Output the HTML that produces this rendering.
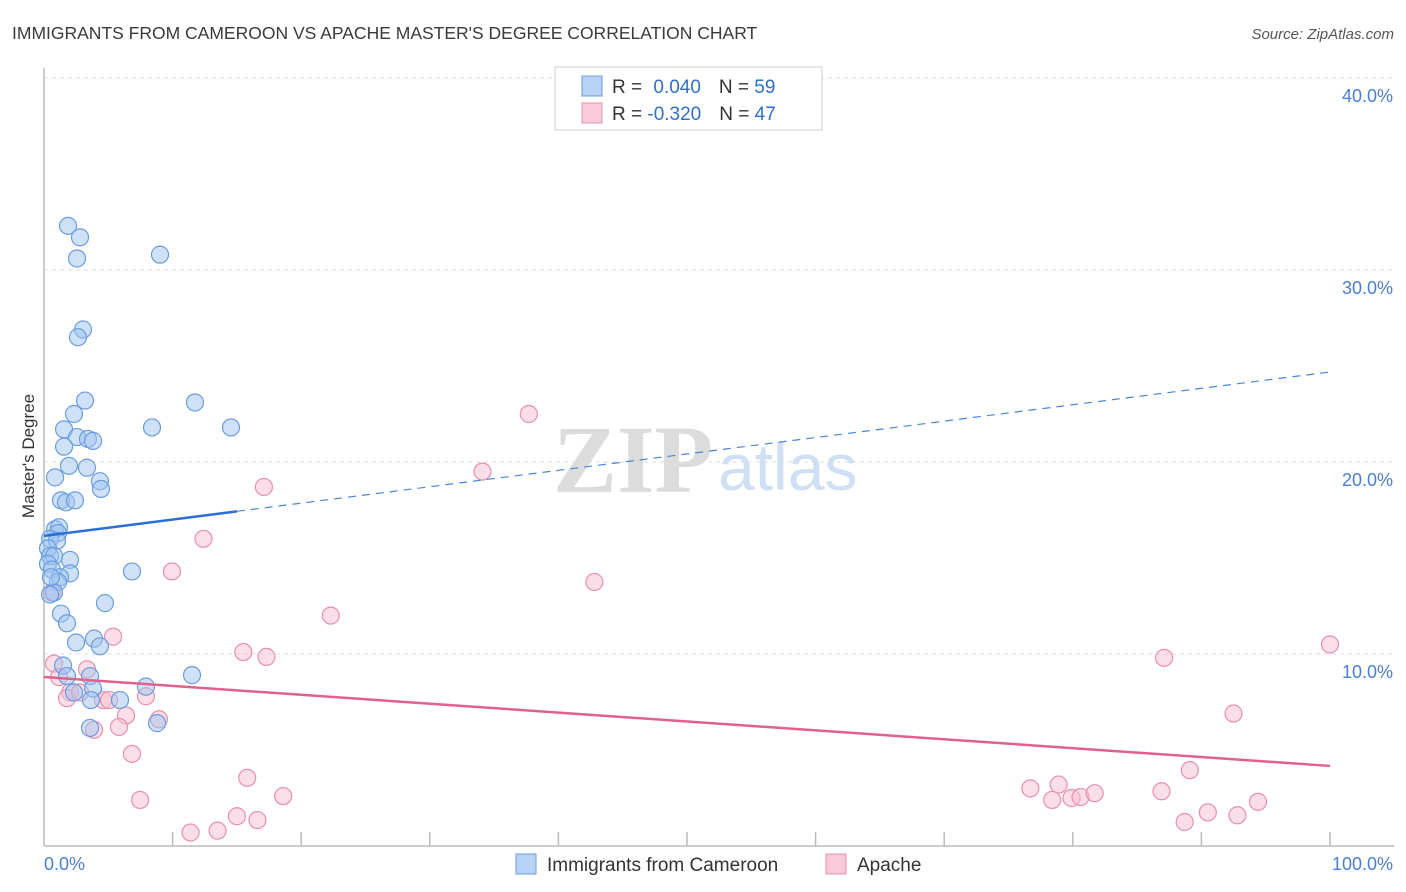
<!DOCTYPE html>
<html><head><meta charset="utf-8"><style>
body{margin:0;background:#fff;font-family:"Liberation Sans",sans-serif}
svg{display:block}
</style></head><body>
<svg id="chart" width="1406" height="892" xmlns="http://www.w3.org/2000/svg">
<text x="12" y="39" font-size="17.5" fill="#3a3a3a">IMMIGRANTS FROM CAMEROON VS APACHE MASTER'S DEGREE CORRELATION CHART</text>
<text x="1394" y="39" font-size="15" font-style="italic" fill="#555" text-anchor="end">Source: ZipAtlas.com</text>
<g>
<text x="553" y="492" font-size="96" font-family="Liberation Serif,serif" fill="#dcdcdc" font-weight="bold">ZIP</text>
<text x="718" y="490" font-size="66" fill="#cfe0f5">atlas</text>
</g>
<g id="grid"></g>
<line x1="44" y1="68" x2="44" y2="846" stroke="#bbb" stroke-width="1.5"/>
<line x1="44" y1="846" x2="1394" y2="846" stroke="#bbb" stroke-width="1.5"/>
<text transform="translate(34,456) rotate(-90)" font-size="17" fill="#333" text-anchor="middle">Master's Degree</text>
<text x="44" y="870" font-size="18" fill="#4a7fd6">0.0%</text>
<text x="1393" y="870" font-size="18" fill="#4a7fd6" text-anchor="end">100.0%</text>
<g id="marks"></g>
<g>
<rect x="555" y="67" width="267" height="63" fill="#fff" stroke="#ccc"/>
<rect x="582" y="76" width="20" height="20" fill="#b8d2f5" stroke="#6a9de0"/>
<rect x="582" y="103" width="20" height="20" fill="#f9cad9" stroke="#e890ab"/>
<text x="612" y="93" font-size="19" fill="#333">R = <tspan fill="#2f6fd0" dx="6">0.040</tspan><tspan fill="#333" dx="18">N = </tspan><tspan fill="#2f6fd0">59</tspan></text>
<text x="612" y="120" font-size="19" fill="#333">R = <tspan fill="#2f6fd0">-0.320</tspan><tspan fill="#333" dx="18">N = </tspan><tspan fill="#2f6fd0">47</tspan></text>
</g>
<g>
<rect x="516" y="854" width="20" height="20" fill="#b8d2f5" stroke="#6a9de0"/>
<text x="547" y="871" font-size="19" fill="#333">Immigrants from Cameroon</text>
<rect x="826" y="854" width="20" height="20" fill="#f9cad9" stroke="#e890ab"/>
<text x="857" y="871" font-size="19" fill="#333">Apache</text>
</g>
</svg>
<script>
const yTicks=[10,20,30,40];
const yTickLabels=["10.0%","20.0%","30.0%","40.0%"];
const xTicks=[10,20,30,40,50,60,70,80,90,100];
const blueX=[1.87,2.8,2.57,9.02,3.03,2.64,3.19,11.74,8.4,14.54,2.33,1.56,2.57,3.42,3.81,1.56,1.94,3.34,0.86,4.35,4.43,1.32,1.71,2.41,0.86,1.17,1.09,0.47,1.01,0.31,0.47,0.78,2.02,0.31,0.62,2.02,6.84,1.24,1.09,0.78,0.47,4.74,1.32,1.79,3.89,4.35,2.49,1.48,1.79,3.58,3.81,7.93,11.51,2.33,3.65,5.91,3.58,8.79,0.54];
const blueY=[32.3,31.7,30.6,30.8,26.9,26.5,23.2,23.1,21.8,21.8,22.5,21.7,21.3,21.2,21.1,20.8,19.8,19.7,19.2,19.0,18.6,18.0,17.9,18.0,16.5,16.6,16.3,16.0,15.9,15.5,15.1,15.1,14.9,14.7,14.4,14.2,14.3,14.0,13.75,13.2,13.1,12.65,12.1,11.6,10.8,10.4,10.6,9.4,8.85,8.85,8.2,8.3,8.9,8.0,7.6,7.6,6.15,6.4,14.0];
const pinkX=[37.7,34.1,17.1,12.4,9.95,42.8,22.3,0.62,5.37,100,15.5,17.3,87.1,0.78,3.34,1.17,2.02,1.79,2.8,4.59,5.05,7.93,6.38,8.94,92.5,5.83,3.89,6.84,15.8,7.47,89.1,76.7,78.9,78.4,79.9,80.6,81.7,86.9,18.6,15.0,16.6,11.4,13.5,90.5,92.8,94.4,88.7];
const pinkY=[22.5,19.5,18.7,16.0,14.3,13.75,12.0,13.2,10.9,10.5,10.1,9.85,9.8,9.5,9.2,8.8,8.0,7.7,8.0,7.6,7.6,7.8,6.8,6.6,6.9,6.2,6.05,4.8,3.55,2.4,3.95,3.0,3.2,2.4,2.5,2.55,2.75,2.85,2.6,1.55,1.35,0.7,0.8,1.75,1.6,2.3,1.25];
const blueTrend=[16.15,24.69];
const pinkTrend=[8.8,4.17];
const blueSolidEnd=15;
const NS="http://www.w3.org/2000/svg";
function sx(v){return 44+v*12.86;}
function sy(v){return 846-v*19.2;}
const grid=document.getElementById('grid');
const marks=document.getElementById('marks');
function mk(tag,attrs,parent){const e=document.createElementNS(NS,tag);for(const k in attrs)e.setAttribute(k,attrs[k]);parent.appendChild(e);return e;}
yTicks.forEach((t,i)=>{
  const l=mk('line',{x1:44,x2:1394,y1:sy(t),y2:sy(t),stroke:'#ddd','stroke-dasharray':'4,4'},grid);
  
  
  const tx=mk('text',{x:1393,y:sy(t)+24,'font-size':18,fill:'#4a7fd6','text-anchor':'end'},grid);
  tx.textContent=yTickLabels[i];
  
  
});
xTicks.forEach(t=>{
  const l=mk('line',{x1:sx(t),x2:sx(t),y1:832,y2:846,stroke:'#bbb','stroke-width':1.5},grid);
  
  
});
function pts(xs,ys,fill,stroke,name){
  xs.forEach((x,i)=>{
    const c=mk('circle',{cx:sx(x),cy:sy(ys[i]),r:8.5,fill:fill,stroke:stroke,'stroke-width':1.2},marks);
    
    
  });
}
pts(pinkX,pinkY,'rgba(248,190,210,0.5)','#e890ab','apache-point');
pts(blueX,blueY,'rgba(160,196,240,0.5)','#6a9de0','cameroon-point');
function ty(tr,x){return tr[0]+(tr[1]-tr[0])*x/100;}
const b1=mk('line',{x1:sx(0),y1:sy(ty(blueTrend,0)),x2:sx(blueSolidEnd),y2:sy(ty(blueTrend,blueSolidEnd)),stroke:'#2a6fd6','stroke-width':2.5},marks);


const b2=mk('line',{x1:sx(blueSolidEnd),y1:sy(ty(blueTrend,blueSolidEnd)),x2:sx(100),y2:sy(ty(blueTrend,100)),stroke:'#4a85da','stroke-width':1.2,'stroke-dasharray':'8,6'},marks);


const p1=mk('line',{x1:sx(0),y1:sy(ty(pinkTrend,0)),x2:sx(100),y2:sy(ty(pinkTrend,100)),stroke:'#e0608f','stroke-width':2.5},marks);


</script>
</body></html>
